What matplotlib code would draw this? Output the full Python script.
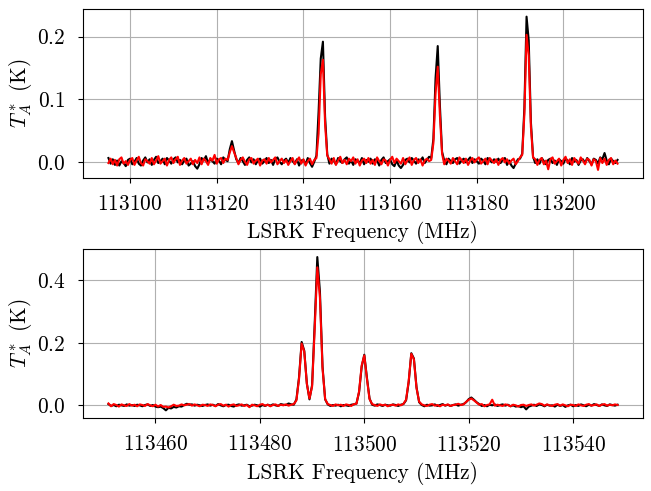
import numpy as np
import matplotlib
matplotlib.use("Agg")
import matplotlib.pyplot as plt

plt.rcParams["font.family"] = "serif"
plt.rcParams["font.serif"] = ["cmr10"]
plt.rcParams["mathtext.fontset"] = "cm"
plt.rcParams["axes.formatter.use_mathtext"] = True
plt.rcParams["font.size"] = 15.4
plt.rcParams["xtick.major.pad"] = 8.5
plt.rcParams["ytick.major.pad"] = 9.0

# channel grids (0.5 MHz channels)
freq_top = np.linspace(113095.0, 113212.5, 236)
freq_bot = np.linspace(113451.0, 113548.5, 196)

# top window, data (black) and model (red), K
data_top = [
    0.006, -0.003, 0.004, -0.005, 0.002, -0.006, 0.001, -0.002, -0.007, 0.003,
    0.005, -0.004, 0.000, 0.006, -0.003, -0.006, 0.002, 0.007, -0.001, 0.004,
    -0.005, 0.003, 0.008, -0.002, 0.001, 0.005, -0.004, 0.006, 0.002, -0.003,
    0.004, 0.007, -0.001, 0.003, -0.004, 0.002, 0.005, -0.006, -0.003, 0.001,
    -0.007, -0.011, -0.004, 0.006, 0.002, 0.009, -0.002, 0.004, 0.001, -0.003,
    0.005, 0.002, -0.004, 0.007, 0.003, 0.001, 0.020, 0.033, 0.018, 0.004,
    -0.002, 0.006, 0.001, -0.005, 0.003, 0.007, -0.001, 0.004, -0.004, 0.002,
    0.005, -0.003, 0.001, 0.006, -0.002, 0.003, -0.005, 0.004, 0.007, 0.000,
    -0.004, 0.002, 0.005, -0.002, 0.006, 0.001, -0.003, 0.004, -0.006, 0.002,
    0.003, -0.004, 0.006, -0.002, -0.008, 0.000, 0.010, 0.080, 0.165, 0.192,
    0.072, 0.012, -0.003, 0.005, 0.002, -0.004, 0.006, 0.001, -0.002, 0.004,
    0.007, -0.003, 0.002, -0.005, 0.004, 0.001, -0.002, 0.006, -0.004, 0.003,
    0.000, 0.005, -0.003, 0.004, 0.002, -0.006, 0.003, 0.007, -0.002, 0.001,
    0.004, -0.004, -0.007, 0.002, -0.006, -0.010, -0.005, 0.003, 0.005, -0.001,
    0.006, 0.002, -0.003, 0.004, 0.001, 0.007, -0.002, 0.003, 0.008, 0.006,
    0.037, 0.134, 0.185, 0.090, 0.016, 0.002, -0.004, 0.005, 0.001, -0.002,
    0.004, 0.006, -0.003, 0.002, 0.005, -0.001, 0.003, 0.007, -0.002, 0.004,
    0.001, -0.003, 0.005, 0.002, -0.004, 0.006, 0.003, -0.001, 0.004, 0.000,
    0.005, -0.002, 0.003, 0.006, -0.005, 0.002, -0.006, -0.010, -0.003, 0.004,
    0.005, 0.013, 0.087, 0.232, 0.194, 0.064, 0.008, -0.002, 0.004, -0.003,
    0.006, 0.001, -0.004, 0.003, 0.005, -0.002, 0.002, -0.005, 0.004, 0.001,
    -0.003, 0.005, 0.002, -0.004, 0.006, 0.000, 0.003, -0.005, 0.002, 0.004,
    -0.002, 0.006, 0.001, -0.004, 0.005, 0.003, -0.003, 0.007, 0.004, 0.014,
    0.002, -0.004, 0.005, 0.001, -0.002, 0.003,
]
model_top = [
    -0.002, 0.005, -0.004, 0.003, -0.006, 0.004, 0.007, -0.003, 0.001, -0.005,
    0.003, 0.006, -0.005, 0.002, 0.008, -0.002, -0.006, 0.004, 0.001, -0.003,
    0.006, -0.004, 0.002, 0.009, -0.003, 0.001, 0.005, -0.006, 0.003, 0.007,
    -0.002, 0.004, 0.008, -0.005, 0.002, 0.006, -0.003, 0.001, 0.005, -0.004,
    0.003, -0.002, 0.007, -0.004, 0.005, 0.001, -0.005, 0.006, 0.002, 0.011,
    -0.003, 0.004, 0.006, -0.002, 0.005, 0.003, 0.015, 0.025, 0.015, 0.006,
    -0.004, 0.003, 0.007, 0.000, -0.005, 0.004, 0.006, -0.003, 0.002, 0.005,
    -0.006, 0.002, 0.004, -0.003, 0.006, -0.001, 0.003, 0.007, -0.004, 0.001,
    0.005, -0.002, 0.003, -0.005, 0.001, 0.006, -0.004, 0.002, 0.007, -0.003,
    0.004, -0.006, 0.001, 0.005, -0.004, 0.003, 0.006, 0.045, 0.140, 0.163,
    0.060, 0.010, 0.004, -0.003, 0.006, -0.005, 0.002, 0.008, -0.002, 0.003,
    -0.004, 0.005, 0.001, 0.007, -0.003, 0.004, -0.006, 0.002, 0.005, -0.002,
    0.006, -0.003, 0.003, -0.005, 0.007, 0.001, -0.004, 0.004, 0.002, -0.006,
    0.003, 0.008, -0.002, 0.005, 0.001, -0.003, 0.006, -0.004, 0.002, 0.007,
    -0.005, 0.003, 0.006, -0.002, 0.004, -0.006, 0.002, 0.005, 0.001, 0.003,
    0.030, 0.110, 0.152, 0.074, 0.013, -0.004, 0.005, 0.002, -0.003, 0.006,
    0.001, -0.004, 0.007, 0.003, -0.002, 0.005, -0.005, 0.002, 0.006, -0.001,
    0.004, 0.007, -0.003, 0.001, 0.005, -0.004, 0.006, 0.002, -0.002, 0.004,
    -0.005, 0.003, 0.006, -0.001, 0.004, -0.003, 0.002, 0.005, -0.004, 0.001,
    0.007, 0.011, 0.076, 0.203, 0.170, 0.056, 0.007, 0.004, -0.005, 0.003,
    0.006, -0.004, 0.002, -0.012, 0.004, 0.007, -0.003, 0.001, 0.005, -0.006,
    0.003, 0.008, -0.002, 0.004, -0.005, 0.006, 0.001, -0.003, 0.007, 0.002,
    -0.004, 0.005, 0.003, -0.006, 0.004, 0.001, -0.013, 0.006, -0.002, 0.005,
    -0.005, 0.003, 0.006, -0.004, 0.002, -0.003,
]

# bottom window
data_bot = [
    0.004, -0.002, 0.001, -0.003, 0.002, 0.000, -0.002, 0.003, -0.001, 0.001,
    -0.002, 0.002, 0.000, -0.003, 0.001, 0.003, -0.002, 0.001, -0.004, -0.006,
    -0.004, -0.009, -0.016, -0.008, -0.010, -0.005, -0.007, -0.003, -0.004, 0.001,
    0.005, 0.002, 0.003, -0.001, 0.002, 0.000, -0.002, 0.001, 0.003, -0.001,
    0.002, -0.002, 0.004, 0.000, -0.003, 0.001, 0.002, -0.002, -0.004, 0.001,
    0.003, -0.001, 0.000, 0.002, -0.003, -0.001, 0.002, 0.000, -0.004, 0.001,
    -0.002, 0.002, -0.001, 0.003, 0.000, -0.002, 0.004, 0.002, 0.001, 0.006,
    0.003, 0.002, 0.019, 0.090, 0.203, 0.175, 0.070, 0.019, 0.065, 0.262,
    0.475, 0.365, 0.124, 0.019, 0.003, -0.002, 0.001, -0.001, 0.002, -0.003,
    0.001, 0.000, -0.002, 0.002, 0.003, 0.006, 0.042, 0.124, 0.162, 0.089,
    0.022, 0.002, -0.001, 0.003, 0.001, -0.002, 0.002, 0.000, -0.001, 0.003,
    0.001, -0.002, 0.002, 0.004, 0.016, 0.074, 0.167, 0.150, 0.058, 0.010,
    0.001, -0.003, 0.002, -0.001, 0.000, 0.003, -0.002, 0.001, 0.004, -0.001,
    0.002, -0.002, 0.001, 0.003, -0.001, 0.002, 0.004, 0.010, 0.020, 0.025,
    0.018, 0.010, 0.004, -0.002, 0.001, -0.003, 0.002, 0.000, 0.003, -0.002,
    0.001, 0.003, -0.001, 0.002, -0.003, 0.000, -0.004, -0.002, -0.006, -0.003,
    -0.013, -0.004, -0.001, 0.002, -0.002, 0.003, 0.001, -0.003, 0.002, -0.001,
    0.000, -0.004, 0.002, -0.002, 0.001, -0.005, 0.000, 0.002, -0.003, 0.001,
    -0.002, 0.003, 0.000, -0.003, 0.002, -0.001, 0.004, 0.001, -0.002, 0.003,
    0.000, -0.002, 0.003, 0.001, -0.001, 0.002,
]
model_bot = [
    0.006, -0.003, 0.004, 0.001, -0.004, 0.003, 0.000, -0.002, 0.004, -0.001,
    0.002, -0.003, 0.003, 0.001, -0.002, 0.004, 0.000, -0.003, 0.002, -0.004,
    0.001, -0.005, -0.004, -0.007, -0.003, 0.002, -0.002, -0.001, 0.003, 0.000,
    0.002, 0.004, -0.001, 0.003, 0.000, -0.003, 0.002, 0.001, -0.002, 0.003,
    0.001, -0.003, 0.002, 0.004, -0.001, 0.002, -0.004, 0.001, 0.003, -0.002,
    0.000, 0.003, -0.002, 0.001, -0.006, 0.002, 0.000, -0.003, 0.002, 0.004,
    -0.001, 0.002, -0.003, 0.001, 0.003, -0.002, 0.002, 0.000, 0.003, -0.001,
    0.002, 0.004, 0.016, 0.085, 0.198, 0.172, 0.068, 0.022, 0.060, 0.245,
    0.442, 0.345, 0.118, 0.020, 0.004, 0.001, -0.002, 0.003, 0.000, 0.002,
    -0.002, 0.003, 0.001, -0.002, 0.004, 0.005, 0.045, 0.128, 0.160, 0.085,
    0.020, 0.004, 0.001, -0.002, 0.003, 0.000, 0.002, -0.003, 0.001, 0.002,
    -0.001, 0.003, 0.000, 0.005, 0.018, 0.078, 0.165, 0.147, 0.055, 0.012,
    0.003, 0.000, -0.002, 0.002, 0.004, -0.001, 0.001, -0.003, 0.002, 0.000,
    0.003, -0.002, 0.001, 0.002, 0.005, 0.001, 0.003, 0.011, 0.018, 0.022,
    0.016, 0.009, 0.002, 0.004, -0.003, 0.001, 0.003, 0.018, -0.001, 0.002,
    0.000, -0.002, 0.003, 0.001, -0.003, 0.002, 0.000, -0.004, 0.001, 0.002,
    -0.002, 0.001, 0.003, -0.001, 0.002, 0.006, 0.004, -0.001, 0.003, 0.000,
    -0.002, 0.002, 0.004, -0.001, 0.003, 0.000, -0.003, 0.002, 0.001, -0.002,
    0.003, 0.000, -0.002, 0.002, 0.004, -0.001, 0.001, 0.003, -0.002, 0.002,
    0.004, -0.001, 0.002, 0.000, 0.003, 0.001,
]

fig, axes = plt.subplots(2, 1, figsize=(6.51, 4.91), dpi=100)
fig.subplots_adjust(left=0.1275, right=0.9877, top=0.9817, bottom=0.1487, hspace=0.426)

for ax, freq, data, model in zip(axes, [freq_top, freq_bot], [data_top, data_bot], [model_top, model_bot]):
    ax.plot(freq, data, "k-")
    ax.plot(freq, model, "r-")
    ax.set_xlabel("LSRK Frequency (MHz)", labelpad=5)
    ax.set_ylabel(r"$T_A^*$ (K)", labelpad=2)
    ax.ticklabel_format(axis="x", useOffset=False)
    ax.grid(True)

fig.savefig("out.png", dpi=100)
